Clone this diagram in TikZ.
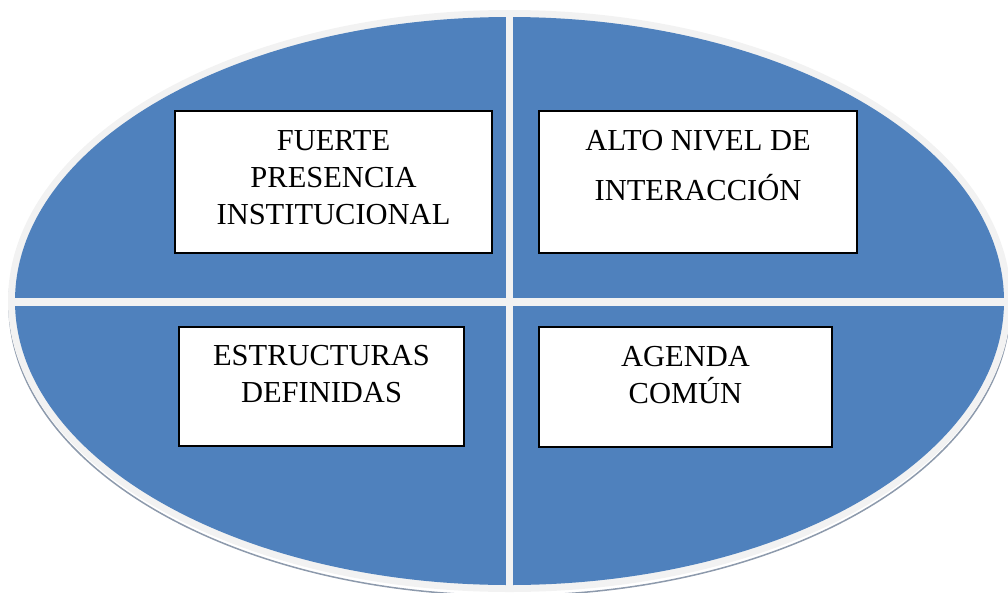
\documentclass[tikz,border=0pt]{standalone}
\usepackage{fontspec}
\setmainfont{Liberation Serif}
\definecolor{ellblue}{HTML}{4F81BD}
\definecolor{rimgray}{HTML}{F2F2F2}
\definecolor{shadowgray}{HTML}{8D9AAC}
\tikzset{
  quadbox/.style={draw=black, line width=2pt, fill=white, inner sep=0pt},
  boxtext/.style={font=\fontsize{30.5}{37}\selectfont, align=center, inner sep=0pt, text=black},
  divider/.style={draw=rimgray, line width=7.5pt}
}
\begin{document}
\begin{tikzpicture}[x=1pt,y=-1pt]
\useasboundingbox (0,0) rectangle (1008,592);
% shadow / reflection
\draw[shadowgray, line width=1.5pt] (509.5,304.5) ellipse [x radius=500.5, y radius=291];
% rim and body
\fill[rimgray] (509.5,301) ellipse [x radius=501.5, y radius=291];
\fill[ellblue] (509.5,301) ellipse [x radius=494.5, y radius=284];
% dividers
\coordinate (vtop) at (509.5,10);
\coordinate (vbot) at (509.5,592);
\coordinate (hleft) at (8,302);
\coordinate (hright) at (1008,302);
\draw[divider] (vtop) -- (vbot);
\draw[divider] (hleft) -- (hright);
% boxes
\node[quadbox, minimum width=317pt, minimum height=142pt] (b1) at (333.5,182) {};
\node[quadbox, minimum width=318pt, minimum height=142pt] (b2) at (698,182) {};
\node[quadbox, minimum width=285pt, minimum height=119pt] (b3) at (321.5,386.5) {};
\node[quadbox, minimum width=293pt, minimum height=120pt] (b4) at (685.5,387) {};
% texts (base anchor = last line)
\node[boxtext, anchor=base] (t1) at (333.5,224) {FUERTE\\PRESENCIA\\INSTITUCIONAL};
\node[boxtext, anchor=base] (t2) at (698,200) {ALTO NIVEL DE\\[13pt]INTERACCIÓN};
\node[boxtext, anchor=base] (t3) at (321.5,402) {ESTRUCTURAS\\DEFINIDAS};
\node[boxtext, anchor=base] (t4) at (685.5,403) {AGENDA\\COMÚN};
\end{tikzpicture}
\end{document}
